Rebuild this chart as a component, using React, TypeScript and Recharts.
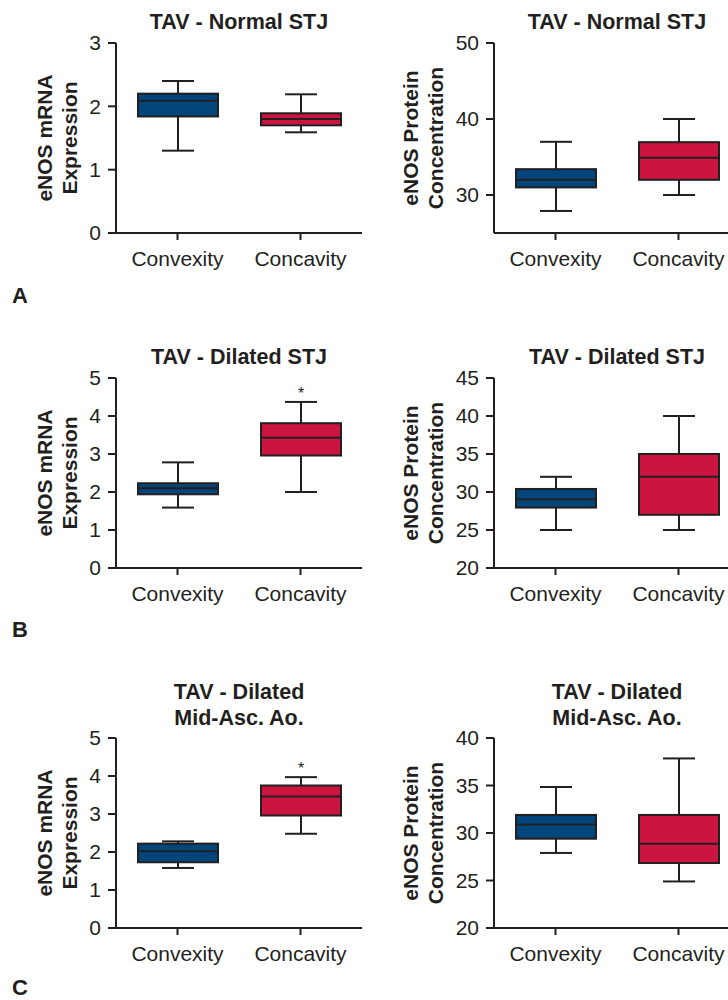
import React from 'react';
import { ComposedChart, Bar, XAxis, YAxis } from 'recharts';

const INK = '#231f20';
const FONT = '"Liberation Sans", Arial, Helvetica, sans-serif';
const BOX_COLORS = ['#00457c', '#cc1440'];

const categories = ['Convexity', 'Concavity'];

// each array: [min, q1, median, q3, max]
const normalStjMrnaConvexity = [1.3, 1.84, 2.09, 2.2, 2.4];
const normalStjMrnaConcavity = [1.59, 1.7, 1.8, 1.89, 2.19];
const normalStjProteinConvexity = [27.9, 31.0, 32.0, 33.4, 37.0];
const normalStjProteinConcavity = [30.0, 32.0, 34.9, 36.95, 40.0];
const dilatedStjMrnaConvexity = [1.59, 1.94, 2.1, 2.23, 2.78];
const dilatedStjMrnaConcavity = [2.0, 2.96, 3.43, 3.81, 4.37];
const dilatedStjProteinConvexity = [25.0, 27.95, 29.0, 30.4, 32.0];
const dilatedStjProteinConcavity = [25.0, 27.0, 32.0, 35.0, 40.0];
const dilatedMidMrnaConvexity = [1.58, 1.73, 2.02, 2.22, 2.28];
const dilatedMidMrnaConcavity = [2.48, 2.96, 3.46, 3.75, 3.97];
const dilatedMidProteinConvexity = [27.9, 29.4, 30.9, 31.9, 34.84];
const dilatedMidProteinConcavity = [24.9, 26.84, 28.87, 31.9, 37.85];

const noSignificance = [false, false];
const concavitySignificant = [false, true];

const mrnaTicksA = [0, 1, 2, 3];
const mrnaTicks = [0, 1, 2, 3, 4, 5];
const proteinTicksA = [30, 40, 50];
const proteinTicksB = [20, 25, 30, 35, 40, 45];
const proteinTicksC = [20, 25, 30, 35, 40];

const buildData = (conv: number[], conc: number[], sig: boolean[]) =>
  [conv, conc].map((s, i) => ({
    name: categories[i],
    min: s[0],
    q1: s[1],
    median: s[2],
    q3: s[3],
    max: s[4],
    sig: sig[i],
    color: BOX_COLORS[i],
  }));

const BoxShape = (props: any) => {
  const { x, y, width, height } = props;
  const p = props.payload || props;
  const { min, q1, median, q3, max, sig, color } = p;
  const top = Math.min(y, y + height);
  const h = Math.abs(height);
  const span = max - min;
  const k = span ? h / span : 0;
  const py = (v: number) => top + (max - v) * k;
  const cx = x + width / 2;
  const capHalf = width * 0.2;
  const st = { stroke: INK, strokeWidth: 2 };
  return (
    <g>
      <line x1={cx} x2={cx} y1={py(max)} y2={py(q3)} {...st} />
      <line x1={cx} x2={cx} y1={py(q1)} y2={py(min)} {...st} />
      <line x1={cx - capHalf} x2={cx + capHalf} y1={py(max)} y2={py(max)} {...st} />
      <line x1={cx - capHalf} x2={cx + capHalf} y1={py(min)} y2={py(min)} {...st} />
      <rect x={x} y={py(q3)} width={width} height={py(q1) - py(q3)} fill={color} {...st} />
      <line x1={x} x2={x + width} y1={py(median)} y2={py(median)} {...st} />
      {sig && (
        <text x={cx} y={py(max) - 3} textAnchor="middle" fontSize={16} fill={INK} fontFamily={FONT}>
          *
        </text>
      )}
    </g>
  );
};

type PanelProps = {
  left: number;
  width: number;
  yAxisWidth: number;
  plotTop: number;
  plotBottom: number;
  data: any[];
  domain: [number, number];
  ticks: number[];
};

const Panel = ({ left, width, yAxisWidth, plotTop, plotBottom, data, domain, ticks }: PanelProps) => {
  const mTop = 20;
  const xH = 50;
  const height = plotBottom - plotTop + mTop + xH;
  const tickStyle = { fontSize: 21, fill: INK, fontFamily: FONT };
  return (
    <div style={{ position: 'absolute', left, top: plotTop - mTop, width, height }}>
      <ComposedChart
        width={width}
        height={height}
        data={data}
        margin={{ top: mTop, right: 2, bottom: 0, left: 0 }}
        barCategoryGap={0}
      >
        <XAxis
          dataKey="name"
          type="category"
          height={xH}
          axisLine={{ stroke: INK, strokeWidth: 2 }}
          tickLine={{ stroke: INK, strokeWidth: 2 }}
          tickSize={7}
          tickMargin={11}
          tick={tickStyle}
          interval={0}
        />
        <YAxis
          type="number"
          domain={domain}
          ticks={ticks}
          allowDataOverflow
          width={yAxisWidth}
          axisLine={{ stroke: INK, strokeWidth: 2 }}
          tickLine={{ stroke: INK, strokeWidth: 2 }}
          tickSize={8}
          tickMargin={7}
          tick={tickStyle}
          interval={0}
        />
        <Bar
          dataKey={(d: any) => [d.min, d.max]}
          barSize={80}
          shape={BoxShape}
          isAnimationActive={false}
        />
      </ComposedChart>
    </div>
  );
};

const Title = ({ x, y, lines }: { x: number; y: number; lines: string[] }) => (
  <text x={x} y={y} textAnchor="middle" fontSize={21.5} fontWeight="bold" fill={INK} fontFamily={FONT}>
    {lines.map((l, i) => (
      <tspan key={i} x={x} dy={i === 0 ? 0 : 26}>
        {l}
      </tspan>
    ))}
  </text>
);

const YLabel = ({ x1, x2, cy, lines }: { x1: number; x2: number; cy: number; lines: string[] }) => (
  <g>
    {[x1, x2].map((x, i) => (
      <text
        key={i}
        x={x}
        y={cy}
        transform={`rotate(-90, ${x}, ${cy})`}
        textAnchor="middle"
        fontSize={21}
        fontWeight="bold"
        fill={INK}
        fontFamily={FONT}
      >
        {lines[i]}
      </text>
    ))}
  </g>
);

const Letter = ({ x, y, t }: { x: number; y: number; t: string }) => (
  <text x={x} y={y} fontSize={22} fontWeight="bold" fill={INK} fontFamily={FONT}>
    {t}
  </text>
);

export default function App() {
  const rows = [
    {
      plotTop: 43,
      plotBottom: 233,
      titleY: 29,
      title: ['TAV - Normal STJ'],
      letter: 'A',
      letterY: 303,
      mrna: buildData(normalStjMrnaConvexity, normalStjMrnaConcavity, noSignificance),
      protein: buildData(normalStjProteinConvexity, normalStjProteinConcavity, noSignificance),
      mrnaDomain: [0, 3] as [number, number],
      mrnaTicks: mrnaTicksA,
      proteinDomain: [25, 50] as [number, number],
      proteinTicks: proteinTicksA,
    },
    {
      plotTop: 378,
      plotBottom: 568,
      titleY: 364,
      title: ['TAV - Dilated STJ'],
      letter: 'B',
      letterY: 637,
      mrna: buildData(dilatedStjMrnaConvexity, dilatedStjMrnaConcavity, concavitySignificant),
      protein: buildData(dilatedStjProteinConvexity, dilatedStjProteinConcavity, noSignificance),
      mrnaDomain: [0, 5] as [number, number],
      mrnaTicks: mrnaTicks,
      proteinDomain: [20, 45] as [number, number],
      proteinTicks: proteinTicksB,
    },
    {
      plotTop: 738,
      plotBottom: 928,
      titleY: 699,
      title: ['TAV - Dilated', 'Mid-Asc. Ao.'],
      letter: 'C',
      letterY: 995,
      mrna: buildData(dilatedMidMrnaConvexity, dilatedMidMrnaConcavity, concavitySignificant),
      protein: buildData(dilatedMidProteinConvexity, dilatedMidProteinConcavity, noSignificance),
      mrnaDomain: [0, 5] as [number, number],
      mrnaTicks: mrnaTicks,
      proteinDomain: [20, 40] as [number, number],
      proteinTicks: proteinTicksC,
    },
  ];

  return (
    <div
      style={{
        position: 'absolute',
        left: 0,
        top: 0,
        width: 728,
        height: 1000,
        overflow: 'hidden',
        background: '#ffffff',
      }}
    >
      {rows.map((r, i) => (
        <React.Fragment key={i}>
          <Panel
            left={0}
            width={364}
            yAxisWidth={116}
            plotTop={r.plotTop}
            plotBottom={r.plotBottom}
            data={r.mrna}
            domain={r.mrnaDomain}
            ticks={r.mrnaTicks}
          />
          <Panel
            left={364}
            width={378}
            yAxisWidth={130}
            plotTop={r.plotTop}
            plotBottom={r.plotBottom}
            data={r.protein}
            domain={r.proteinDomain}
            ticks={r.proteinTicks}
          />
        </React.Fragment>
      ))}
      <svg
        width={728}
        height={1000}
        style={{ position: 'absolute', left: 0, top: 0, pointerEvents: 'none' }}
      >
        {rows.map((r, i) => {
          const cy = (r.plotTop + r.plotBottom) / 2;
          return (
            <g key={i}>
              <Title x={239} y={r.titleY} lines={r.title} />
              <Title x={617} y={r.titleY} lines={r.title} />
              <YLabel x1={52} x2={77} cy={cy} lines={['eNOS mRNA', 'Expression']} />
              <YLabel x1={418} x2={443} cy={cy} lines={['eNOS Protein', 'Concentration']} />
              <Letter x={12} y={r.letterY} t={r.letter} />
            </g>
          );
        })}
      </svg>
    </div>
  );
}
